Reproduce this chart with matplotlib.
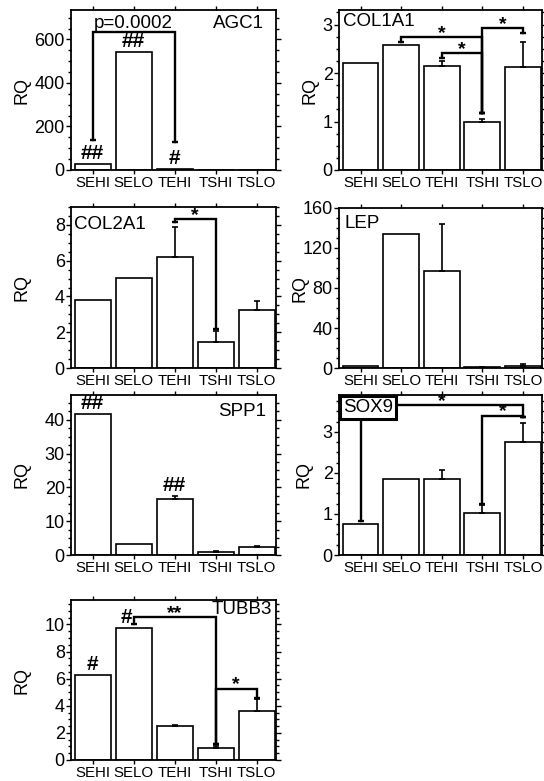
import numpy as np
import matplotlib
matplotlib.use("Agg")
import matplotlib.pyplot as plt
from matplotlib.ticker import MultipleLocator

plt.rcParams["font.family"] = ["Liberation Sans", "DejaVu Sans"]

groups = ["SEHI", "SELO", "TEHI", "TSHI", "TSLO"]

# RQ values (mean, upper error)
agc1_rq = [26, 540, 5, 0.5, 1]
agc1_err = [0, 0, 0, 0, 0]
col1a1_rq = [2.21, 2.58, 2.14, 0.99, 2.12]
col1a1_err = [0, 0, 0.10, 0.06, 0.51]
col2a1_rq = [3.79, 5.05, 6.22, 1.46, 3.23]
col2a1_err = [0, 0, 1.65, 0.61, 0.51]
lep_rq = [1.7, 134, 97, 0.6, 2.5]
lep_err = [0, 0, 47, 0.6, 1.9]
spp1_rq = [41.7, 3.26, 16.5, 1.0, 2.27]
spp1_err = [0, 0, 1.0, 0.3, 0.38]
sox9_rq = [0.76, 1.86, 1.86, 1.03, 2.75]
sox9_err = [0, 0, 0.21, 0.19, 0.47]
tubb3_rq = [6.3, 9.73, 2.48, 0.91, 3.65]
tubb3_err = [0, 0, 0.09, 0.12, 0.84]

# significance brackets: (from, to, level, left end, right end, label)
agc1_brackets = [(0, 2, 635, 138, 130, "p=0.0002")]
col1a1_brackets = [(1, 3, 2.74, 2.64, 1.17, "*"), (2, 3, 2.42, 2.30, 1.17, "*"),
                   (3, 4, 2.93, 1.17, 2.83, "*")]
col2a1_brackets = [(2, 3, 8.34, 8.15, 2.2, "*")]
sox9_brackets = [(0, 4, 3.65, 0.84, 3.36, "*"), (3, 4, 3.40, 1.25, 3.36, "*")]
tubb3_brackets = [(1, 3, 10.54, 10.0, 1.2, "**"), (3, 4, 5.27, 1.2, 4.6, "*")]

# hash marks over bars: (bar, label, x offset px)
agc1_hash = [(0, "##", 0), (1, "##", 0), (2, "#", 0)]
spp1_hash = [(0, "##", 0), (2, "##", 0)]
tubb3_hash = [(0, "#", 0), (1, "#", -7)]

W, H = 544, 781
fig = plt.figure(figsize=(W / 100, H / 100), dpi=100)


def make_ax(left, top, right, bottom):
    ax = fig.add_axes([left / W, 1 - bottom / H, (right - left) / W, (bottom - top) / H])
    ax._px = (left, right)
    return ax


def panel(ax, vals, errs, ymax, major, minor, label_x, brackets=(), hashes=()):
    x = np.arange(len(groups))
    ax.bar(x, vals, width=0.88, color="white", edgecolor="black", linewidth=1.2, zorder=2)
    errs = np.array(errs, dtype=float)
    has = errs > 0
    ax.errorbar(x[has], np.array(vals)[has], yerr=[np.zeros(has.sum()), errs[has]],
                fmt="none", ecolor="black", elinewidth=1.2, capsize=2.5, capthick=1.2, zorder=3)
    ax.set_xlim(-0.53, 4.47)
    ax.set_ylim(0, ymax)
    ax.set_xticks(x)
    ax.set_xticklabels(groups, fontsize=10.8)
    ax.yaxis.set_major_locator(MultipleLocator(major))
    ax.yaxis.set_minor_locator(MultipleLocator(minor))
    ax.tick_params(axis="x", which="both", direction="out", top=True, bottom=True,
                   length=3, width=1, pad=1)
    ax.tick_params(axis="y", which="major", direction="out", left=True, right=True,
                   length=3.5, width=1, labelsize=13, pad=1)
    ax.tick_params(axis="y", which="minor", direction="out", left=True, right=True,
                   length=2, width=1)
    for s in ax.spines.values():
        s.set_linewidth(1.3)
    ax.set_ylabel("RQ", fontsize=13)
    # label_x is the pixel column where the label's centre should sit
    left, right = ax._px
    ax.yaxis.set_label_coords((label_x + 8 - left) / (right - left), 0.5)

    for i, j, lev, yi, yj, lab in brackets:
        ax.plot([i, i, j, j], [yi, lev, lev, yj], color="black", lw=1.7,
                solid_joinstyle="miter", zorder=4)
        ax.plot([i, j], [yi, yj], ls="none", marker="_", ms=5, mew=1.7, color="black", zorder=4)
        if lab.startswith("p"):
            ax.annotate(lab, ((i + j) / 2, lev), xytext=(0, 0), textcoords="offset pixels",
                        ha="center", va="bottom", fontsize=13.5, zorder=5)
        else:
            ax.annotate(lab, ((i + j) / 2, lev), xytext=(0, -5), textcoords="offset pixels",
                        ha="center", va="bottom", fontsize=14, fontweight="bold", zorder=5)

    for b, lab, dx in hashes:
        ax.annotate(lab, (b, vals[b] + errs[b]), xytext=(dx, 1), textcoords="offset pixels",
                    ha="center", va="bottom", fontsize=15, fontweight="bold", zorder=5)


def gene_label(ax, name, side, dx, dy, box=False):
    xa = 0 if side == "left" else 1
    kw = {}
    if box:
        kw["bbox"] = dict(boxstyle="square,pad=0.15", fc="white", ec="black", lw=2.2)
    ax.annotate(name, (xa, 1), xycoords="axes fraction", xytext=(dx, dy),
                textcoords="offset pixels", ha=side, va="top", fontsize=13.5, zorder=6, **kw)


ax1 = make_ax(71, 10, 276, 170)
panel(ax1, agc1_rq, agc1_err, 735, 200, 50, 22, agc1_brackets, agc1_hash)
gene_label(ax1, "AGC1", "right", -12, -5)

ax2 = make_ax(339, 10, 542, 170)
panel(ax2, col1a1_rq, col1a1_err, 3.3, 1, 0.25, 310, col1a1_brackets)
gene_label(ax2, "COL1A1", "left", 4, -3)

ax3 = make_ax(71, 207, 276, 368)
panel(ax3, col2a1_rq, col2a1_err, 9, 2, 0.5, 22, col2a1_brackets)
gene_label(ax3, "COL2A1", "left", 3, -9)

ax4 = make_ax(339, 208, 542, 368)
panel(ax4, lep_rq, lep_err, 160, 40, 10, 300)
gene_label(ax4, "LEP", "left", 6, -7)

ax5 = make_ax(71, 395, 276, 555)
panel(ax5, spp1_rq, spp1_err, 47.3, 10, 2.5, 22, hashes=spp1_hash)
gene_label(ax5, "SPP1", "right", -10, -8)

ax6 = make_ax(339, 395, 542, 555)
panel(ax6, sox9_rq, sox9_err, 3.9, 1, 0.25, 304, sox9_brackets)
gene_label(ax6, "SOX9", "left", 4, -4, box=True)

ax7 = make_ax(71, 600, 276, 760)
panel(ax7, tubb3_rq, tubb3_err, 11.8, 2, 0.5, 22, tubb3_brackets, tubb3_hash)
gene_label(ax7, "TUBB3", "right", -4, -1)

fig.savefig("out.png", dpi=100)
